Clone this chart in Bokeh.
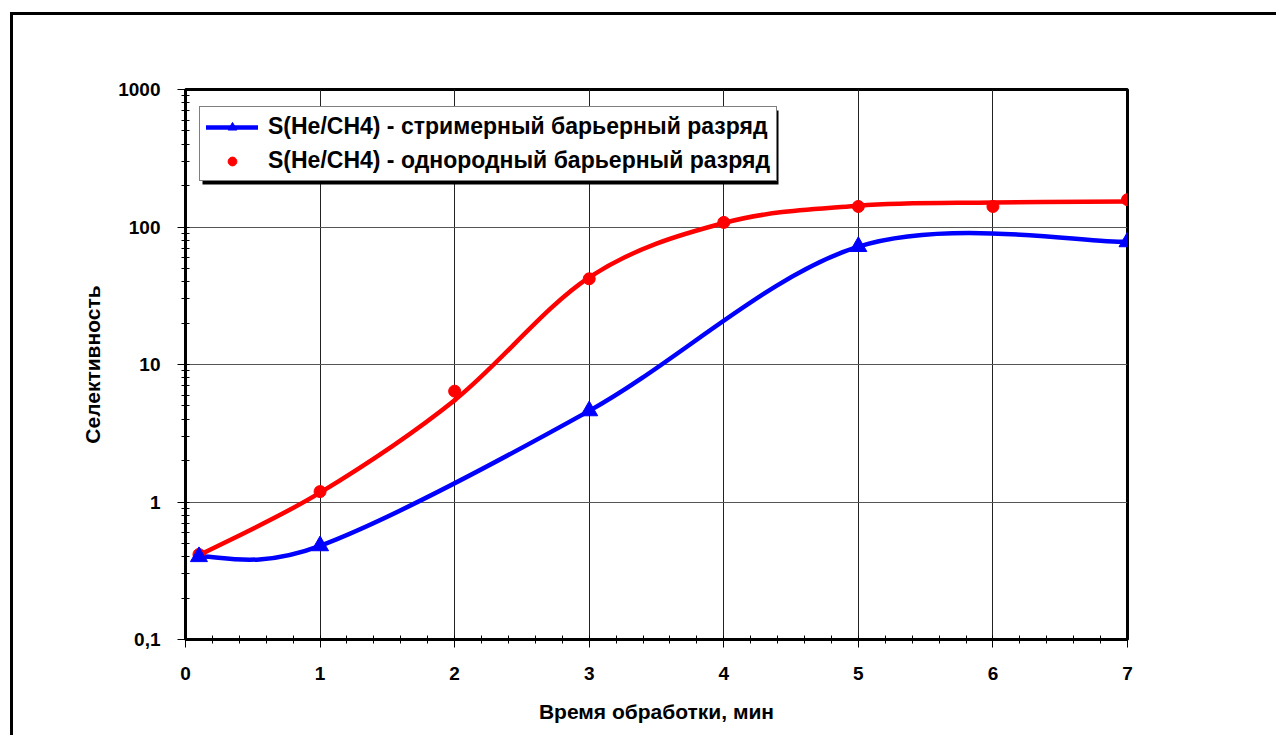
import numpy as np
from bokeh.plotting import figure
from bokeh.models import (FixedTicker, Legend, LegendItem, BoxAnnotation)
from bokeh.embed import file_html
from bokeh.resources import INLINE

# Treatment time, min, and selectivity S(He/CH4)
streamer_t = [0.1, 1, 3, 5, 7]
streamer_s = [0.40, 0.48, 4.6, 72, 78]

uniform_t = [0.1, 1, 2, 3, 4, 5, 6, 7]
uniform_s = [0.415, 1.19, 6.4, 42, 108, 141, 141, 158]

# smoothed trend for the uniform discharge
uniform_fit_t = [0.1, 1, 2, 3, 4, 5, 6, 7]
uniform_fit_s = [0.41, 1.17, 5.5, 43, 107, 143, 151, 153]

x_ticks = [0, 1, 2, 3, 4, 5, 6, 7]
y_ticks = [0.1, 1, 10, 100, 1000]
y_tick_labels = ["0,1", "1", "10", "100", "1000"]

FONT = "Liberation Sans"


def smooth_segments(xs, ys):
    """Cubic Bezier segments (Catmull-Rom style, tension 1/6) in x / log10(y)."""
    x = np.asarray(xs, float)
    ly = np.log10(np.asarray(ys, float))
    n = len(x)
    seg = {k: [] for k in ("x0", "y0", "x1", "y1", "cx0", "cy0", "cx1", "cy1")}
    for i in range(n - 1):
        a = i - 1 if i > 0 else i
        b = i + 2 if i + 2 < n else i + 1
        c0x = x[i] + (x[i + 1] - x[a]) / 6.0
        c0y = ly[i] + (ly[i + 1] - ly[a]) / 6.0
        c1x = x[i + 1] - (x[b] - x[i]) / 6.0
        c1y = ly[i + 1] - (ly[b] - ly[i]) / 6.0
        seg["x0"].append(x[i]); seg["y0"].append(10 ** ly[i])
        seg["x1"].append(x[i + 1]); seg["y1"].append(10 ** ly[i + 1])
        seg["cx0"].append(c0x); seg["cy0"].append(10 ** c0y)
        seg["cx1"].append(c1x); seg["cy1"].append(10 ** c1y)
    return seg


ox, oy = 13, 15          # page offset of the canvas (margin + border)
W, H = 1279 - ox, 738 - oy
fl, fr, ft, fb = 185, 1127, 89, 639   # frame edges on the page

p = figure(width=W, height=H, y_axis_type="log",
           x_range=(0, 7), y_range=(0.1, 1000),
           output_backend="svg", toolbar_location=None,
           min_border_left=fl - ox, min_border_right=W - (fr - ox),
           min_border_top=ft - oy, min_border_bottom=H - (fb - oy))
p.styles = {"margin-left": "10px", "margin-top": "12px",
            "border-left": "3px solid black", "border-top": "3px solid black"}

p.outline_line_color = "black"
p.outline_line_width = 3
p.background_fill_color = "white"
p.border_fill_color = "white"

# axes
p.xaxis.ticker = FixedTicker(ticks=x_ticks,
                             minor_ticks=[i / 5 for i in range(0, 36)])
p.yaxis.ticker = FixedTicker(ticks=y_ticks,
                             minor_ticks=[m * 10.0 ** e for e in range(-1, 3) for m in range(1, 10)])
p.yaxis.major_label_overrides = dict(zip(y_ticks, y_tick_labels))

for ax in (p.xaxis[0], p.yaxis[0]):
    ax.axis_line_width = 3
    ax.axis_line_color = "black"
    ax.major_tick_line_color = "black"
    ax.minor_tick_line_color = "black"
    ax.major_tick_line_width = 1
    ax.minor_tick_line_width = 1
    ax.major_label_text_font = FONT
    ax.major_label_text_font_style = "bold"
    ax.major_label_text_font_size = "19px"
    ax.major_label_text_color = "black"
    ax.axis_label_text_font = FONT
    ax.axis_label_text_font_style = "bold"
    ax.axis_label_text_font_size = "21px"
    ax.axis_label_text_color = "black"

p.xaxis.major_tick_out = 8
p.xaxis.major_tick_in = 0
p.xaxis.minor_tick_out = 4
p.xaxis.minor_tick_in = 4
p.xaxis.major_label_standoff = 19
p.xaxis.axis_label = "Время обработки, мин"
p.xaxis.axis_label_standoff = 17

p.yaxis.major_tick_out = 8
p.yaxis.major_tick_in = 0
p.yaxis.minor_tick_out = 4
p.yaxis.minor_tick_in = 4
p.yaxis.major_label_standoff = 17
p.yaxis.axis_label = "Селективность"
p.yaxis.axis_label_standoff = 11

p.xgrid.grid_line_color = "#222222"
p.xgrid.grid_line_width = 1
p.ygrid.grid_line_color = "#555555"
p.ygrid.grid_line_width = 1

# curves
blue_seg = smooth_segments(streamer_t, streamer_s)
red_seg = smooth_segments(uniform_fit_t, uniform_fit_s)

red_curve = p.bezier(source=red_seg, x0="x0", y0="y0", x1="x1", y1="y1",
                     cx0="cx0", cy0="cy0", cx1="cx1", cy1="cy1",
                     line_color="#FF0000", line_width=4.5, line_cap="round")
blue_curve = p.bezier(source=blue_seg, x0="x0", y0="y0", x1="x1", y1="y1",
                      cx0="cx0", cy0="cy0", cx1="cx1", cy1="cy1",
                      line_color="#0000FF", line_width=4.5, line_cap="round")

red_pts = p.scatter(uniform_t, uniform_s, marker="circle", size=12,
                    fill_color="#FF0000", line_color="#FF0000")
blue_pts = p.scatter(streamer_t, streamer_s, marker="triangle", size=17,
                     fill_color="#0000FF", line_color="#0000FF")

# legend with a drop shadow
cx, cy = 16, 18
shadow = BoxAnnotation(left=202 - cx, right=778 - cx, top=110 - cy, bottom=184 - cy,
                       left_units="canvas", right_units="canvas",
                       top_units="canvas", bottom_units="canvas",
                       fill_color="black", fill_alpha=1, line_color=None,
                       editable=False)
p.add_layout(shadow)

legend = Legend(items=[
    LegendItem(label="S(He/CH4) - стримерный барьерный разряд",
               renderers=[blue_curve, blue_pts]),
    LegendItem(label="S(He/CH4) - однородный барьерный разряд",
               renderers=[red_pts]),
], location=(199 - fl, fb - 181))
legend.label_text_font = FONT
legend.label_text_font_style = "bold"
legend.label_text_font_size = "23px"
legend.label_text_color = "black"
legend.border_line_color = "black"
legend.border_line_width = 1
legend.background_fill_color = "white"
legend.background_fill_alpha = 1
legend.padding = 6
legend.spacing = 7
legend.glyph_width = 52
legend.glyph_height = 22
legend.label_standoff = 10
legend.margin = 0
p.add_layout(legend)

open("out.html", "w").write(file_html(p, INLINE))
